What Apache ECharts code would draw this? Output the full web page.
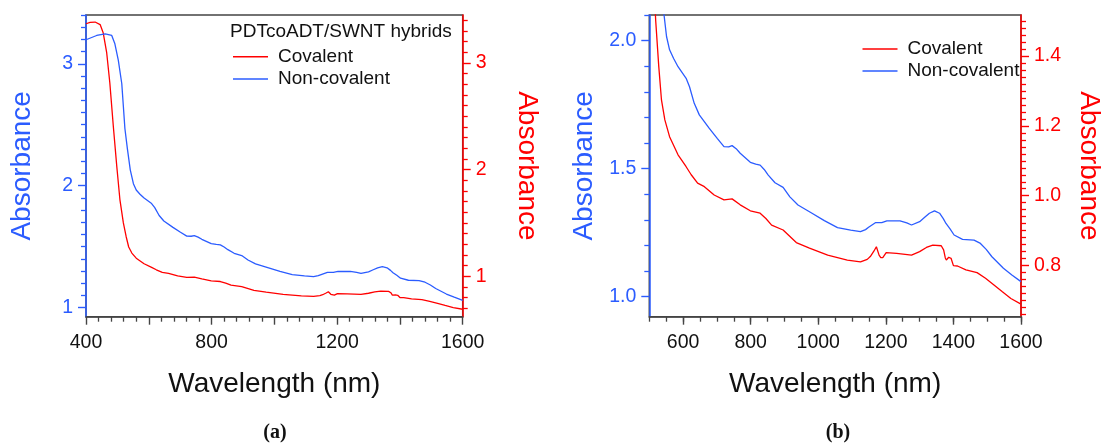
<!DOCTYPE html>
<html>
<head>
<meta charset="utf-8">
<script src="https://cdn.jsdelivr.net/npm/echarts@6/dist/echarts.min.js"></script>
<style>
html,body{margin:0;padding:0;background:#fff;}
#chart{width:1104px;height:443px;}
</style>
</head>
<body>
<div id="chart"></div>
<script>
// ---- data ----
const nonCovWl = [400,434,461,482,492,503,514,524,532,541,551,560,572,585,609,619,633,648,677,701,721,735,745,757,769,799,815,828,840,852,872,896,916,940,979,1018,1057,1096,1125,1140,1149,1169,1188,1203,1242,1262,1276,1300,1315,1329,1344,1359,1370,1378,1390,1402,1427,1461,1480,1497,1514,1548,1573,1600];
const nonCovAbs = [3.197,3.232,3.246,3.232,3.164,3.027,2.836,2.467,2.30,2.13,2.016,1.964,1.93,1.898,1.853,1.82,1.755,1.71,1.658,1.618,1.586,1.585,1.59,1.578,1.56,1.525,1.518,1.514,1.497,1.475,1.445,1.427,1.39,1.358,1.328,1.297,1.27,1.26,1.254,1.262,1.271,1.289,1.289,1.296,1.296,1.288,1.28,1.293,1.31,1.326,1.335,1.326,1.305,1.286,1.265,1.241,1.224,1.221,1.208,1.185,1.156,1.111,1.085,1.059];
const covWl = [400,413,429,445,455,466,476,487,498,508,519,528,536,546,560,585,609,624,643,663,692,721,745,769,799,828,845,862,896,935,974,1028,1086,1125,1145,1154,1165,1172,1177,1180,1185,1191,1201,1232,1276,1300,1320,1339,1364,1371,1376,1379,1386,1393,1400,1412,1437,1470,1495,1520,1544,1570,1600];
const covAbs = [3.368,3.381,3.384,3.36,3.281,3.094,2.81,2.406,2.031,1.719,1.50,1.37,1.274,1.217,1.169,1.117,1.083,1.06,1.036,1.026,1.002,0.988,0.991,0.974,0.957,0.95,0.935,0.916,0.902,0.866,0.85,0.83,0.816,0.811,0.818,0.826,0.842,0.854,0.85,0.83,0.823,0.823,0.837,0.835,0.83,0.84,0.852,0.859,0.857,0.845,0.822,0.816,0.824,0.821,0.80,0.799,0.788,0.78,0.764,0.745,0.726,0.706,0.69];

// tick values
const aBlueMajor = [1,2,3];
const aBlueMinor = [1.1,1.2,1.3,1.4,1.5,1.6,1.7,1.8,1.9,2.1,2.2,2.3,2.4,2.5,2.6,2.7,2.8,2.9,3.1,3.2,3.3,3.4];
const aRedMajor = [1,2,3];
const aRedMinor = [0.7,0.8,0.9,1.1,1.2,1.3,1.4,1.5,1.6,1.7,1.8,1.9,2.1,2.2,2.3,2.4,2.5,2.6,2.7,2.8,2.9,3.1,3.2,3.3,3.4];
const bXMajor = [600,800,1000,1200,1400,1600];
const bBlueMajor = [1.0,1.5,2.0];
const bBlueMinor = [1.1,1.2,1.3,1.4,1.6,1.7,1.8,1.9,2.1];
const bRedMajor = [0.8,1.0,1.2,1.4];
const bRedMinor = [0.66,0.68,0.70,0.72,0.74,0.76,0.78,0.82,0.84,0.86,0.88,0.90,0.92,0.94,0.96,0.98,1.02,1.04,1.06,1.08,1.10,1.12,1.14,1.16,1.18,1.22,1.24,1.26,1.28,1.30,1.32,1.34,1.36,1.38,1.42,1.44,1.46,1.48,1.50];

const BLUE = '#2b5cff';
const RED = '#ff0000';
const DARK = '#444';
const FONT = "'Liberation Sans', Arial, sans-serif";

const zip = (xs, ys) => xs.map((x, i) => [x, ys[i]]);

function yMain(gridIndex, pos, min, max, color, major, fmt, nameGap) {
  return {
    type: 'value', gridIndex, position: pos, min, max,
    name: 'Absorbance', nameLocation: 'middle', nameGap,
    nameRotate: pos === 'right' ? -90 : 90,
    nameTextStyle: {color, fontSize: 28, fontFamily: FONT},
    axisLine: {show: true, lineStyle: {color, width: 1.5}},
    axisTick: {show: true, length: 8, lineStyle: {color, width: 1.4}, customValues: major},
    axisLabel: {show: true, color, fontSize: 19.5, fontFamily: FONT, margin: 13, customValues: major, formatter: fmt},
    splitLine: {show: false}
  };
}
function yMinor(gridIndex, pos, min, max, color, minor) {
  return {
    type: 'value', gridIndex, position: pos, min, max,
    axisLine: {show: false},
    axisTick: {show: true, length: 5, lineStyle: {color, width: 1.3}, customValues: minor},
    axisLabel: {show: false},
    splitLine: {show: false}
  };
}

const option = {
  animation: false,
  backgroundColor: '#fff',
  textStyle: {fontFamily: FONT},
  title: [
    {text: 'PDTcoADT/SWNT hybrids', left: 230, top: 22, padding: 0,
     textStyle: {fontSize: 19, fontWeight: 'normal', color: '#111', fontFamily: FONT}},
    {text: '{p|(}{b|a}{p|)}', left: 275, top: 423, textAlign: 'center', padding: 0,
     textStyle: {rich: {p: {fontFamily: "'Liberation Serif', serif", fontSize: 20, color: '#111'},
                        b: {fontFamily: "'Liberation Serif', serif", fontSize: 20, fontWeight: 'bold', color: '#111'}}}},
    {text: '{p|(}{b|b}{p|)}', left: 838, top: 423, textAlign: 'center', padding: 0,
     textStyle: {rich: {p: {fontFamily: "'Liberation Serif', serif", fontSize: 20, color: '#111'},
                        b: {fontFamily: "'Liberation Serif', serif", fontSize: 20, fontWeight: 'bold', color: '#111'}}}}
  ],
  legend: [
    {orient: 'vertical', left: 233, top: 45.5, padding: 0, itemGap: 0, itemWidth: 35, itemHeight: 1.5, icon: 'rect',
     data: ['Covalent', 'Non-covalent'],
     textStyle: {fontSize: 19, color: '#111', fontFamily: FONT, lineHeight: 22.3, padding: [0, 0, 0, 5]}},
    {orient: 'vertical', left: 862.5, top: 38, padding: 0, itemGap: 0, itemWidth: 35, itemHeight: 1.5, icon: 'rect',
     data: ['Covalent', 'Non-covalent'],
     textStyle: {fontSize: 19, color: '#111', fontFamily: FONT, lineHeight: 22, padding: [0, 0, 0, 5]}}
  ],
  grid: [
    {left: 86, top: 15, width: 376.7, height: 301.7, show: true, borderColor: DARK, borderWidth: 1.5, backgroundColor: 'transparent'},
    {left: 649.3, top: 15, width: 376.7, height: 301.7, show: true, borderColor: DARK, borderWidth: 1.5, backgroundColor: 'transparent'}
  ],
  xAxis: [
    {type: 'value', gridIndex: 0, position: 'bottom', min: 400, max: 1600, interval: 200,
     name: 'Wavelength (nm)', nameLocation: 'middle', nameGap: 54,
     nameTextStyle: {color: '#111', fontSize: 28, fontFamily: FONT},
     axisLine: {lineStyle: {color: DARK, width: 1.5}},
     axisTick: {length: 8, lineStyle: {color: DARK, width: 1.4}},
     minorTick: {show: true, splitNumber: 5, length: 5, lineStyle: {color: DARK, width: 1.3}},
     axisLabel: {color: '#111', fontSize: 19.5, fontFamily: FONT, margin: 16,
                 formatter: v => (v % 400 === 0 ? String(v) : '')},
     splitLine: {show: false}, minorSplitLine: {show: false}},
    {type: 'value', gridIndex: 1, position: 'bottom', min: 500, max: 1600,
     name: 'Wavelength (nm)', nameLocation: 'middle', nameGap: 54,
     nameTextStyle: {color: '#111', fontSize: 28, fontFamily: FONT},
     axisLine: {lineStyle: {color: DARK, width: 1.5}},
     axisTick: {length: 8, lineStyle: {color: DARK, width: 1.4}, customValues: bXMajor},
     axisLabel: {color: '#111', fontSize: 19.5, fontFamily: FONT, margin: 16, customValues: bXMajor, formatter: v => String(v)},
     splitLine: {show: false}},
    {type: 'value', gridIndex: 1, position: 'bottom', min: 500, max: 1600, interval: 50,
     axisLine: {show: false},
     axisTick: {length: 5, lineStyle: {color: DARK, width: 1.3}},
     axisLabel: {show: false}, splitLine: {show: false}}
  ],
  yAxis: [
    yMain(0, 'left', 0.925, 3.4, BLUE, aBlueMajor, v => String(v), 50),
    yMain(0, 'right', 0.62, 3.45, RED, aRedMajor, v => String(v), 50),
    yMinor(0, 'left', 0.925, 3.4, BLUE, aBlueMinor),
    yMinor(0, 'right', 0.62, 3.45, RED, aRedMinor),
    yMain(1, 'left', 0.922, 2.1, BLUE, bBlueMajor, v => v.toFixed(1), 51),
    yMain(1, 'right', 0.654, 1.517, RED, bRedMajor, v => v.toFixed(1), 54),
    yMinor(1, 'left', 0.922, 2.1, BLUE, bBlueMinor),
    yMinor(1, 'right', 0.654, 1.517, RED, bRedMinor)
  ],
  series: [
    {name: 'Covalent', type: 'line', xAxisIndex: 0, yAxisIndex: 1, data: zip(covWl, covAbs),
     symbol: 'none', lineStyle: {color: RED, width: 1.3}, itemStyle: {color: RED}},
    {name: 'Non-covalent', type: 'line', xAxisIndex: 0, yAxisIndex: 0, data: zip(nonCovWl, nonCovAbs),
     symbol: 'none', lineStyle: {color: BLUE, width: 1.3}, itemStyle: {color: BLUE}},
    {name: 'Covalent', type: 'line', xAxisIndex: 1, yAxisIndex: 5, data: zip(covWl, covAbs),
     symbol: 'none', lineStyle: {color: RED, width: 1.3}, itemStyle: {color: RED}},
    {name: 'Non-covalent', type: 'line', xAxisIndex: 1, yAxisIndex: 4, data: zip(nonCovWl, nonCovAbs),
     symbol: 'none', lineStyle: {color: BLUE, width: 1.3}, itemStyle: {color: BLUE}}
  ]
};

const chart = echarts.init(document.getElementById('chart'), null, {renderer: 'canvas'});
chart.setOption(option);
</script>
</body>
</html>
